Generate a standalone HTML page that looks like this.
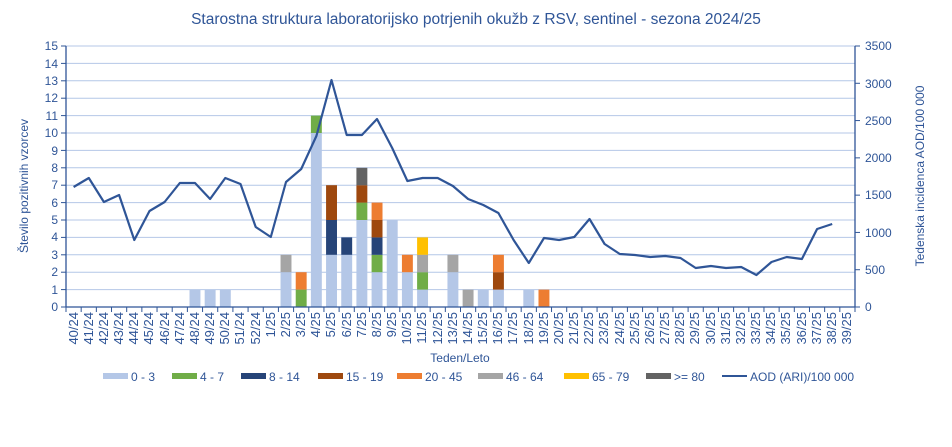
<!DOCTYPE html>
<html><head><meta charset="utf-8"><style>
body{margin:0;background:#fff;}
svg{display:block;font-family:"Liberation Sans",Arial,sans-serif;}
</style></head><body>
<svg id="s" width="952" height="447" viewBox="0 0 952 447" xmlns="http://www.w3.org/2000/svg">
<rect width="952" height="447" fill="#fff"/>
<text x="476" y="24" text-anchor="middle" font-size="15.5" fill="#2F5597">Starostna struktura  laboratorijsko potrjenih okužb z RSV, sentinel - sezona 2024/25</text>
<g id="grid" stroke="#B4C7E7" stroke-width="1"></g>
<g id="bars"></g>
<polyline id="line" fill="none" stroke="#2F5597" stroke-width="2.2" stroke-linejoin="round"/>
<g stroke="#2F5597" stroke-width="1.3">
<line x1="66" y1="46" x2="66" y2="307"/>
<line x1="855" y1="46" x2="855" y2="307"/>
<line x1="66" y1="307" x2="855" y2="307"/>
</g>
<g id="ticks" stroke="#2F5597" stroke-width="1"></g>
<g font-size="12" fill="#2F5597" text-anchor="end">
<text x="58" y="311">0</text><text x="58" y="294">1</text><text x="58" y="276">2</text><text x="58" y="259">3</text><text x="58" y="241">4</text><text x="58" y="224">5</text><text x="58" y="207">6</text><text x="58" y="189">7</text><text x="58" y="172">8</text><text x="58" y="155">9</text><text x="58" y="137">10</text><text x="58" y="120">11</text><text x="58" y="102">12</text><text x="58" y="85">13</text><text x="58" y="68">14</text><text x="58" y="50">15</text>
</g>
<g font-size="12" fill="#2F5597" text-anchor="start">
<text x="865" y="311">0</text><text x="865" y="274">500</text><text x="865" y="237">1000</text><text x="865" y="199">1500</text><text x="865" y="162">2000</text><text x="865" y="125">2500</text><text x="865" y="88">3000</text><text x="865" y="50">3500</text>
</g>
<text transform="translate(28,186) rotate(-90)" text-anchor="middle" font-size="12" fill="#2F5597">Število pozitivnih vzorcev</text>
<text transform="translate(924,176) rotate(-90)" text-anchor="middle" font-size="12" fill="#2F5597">Tedenska incidenca AOD/100 000</text>
<g font-size="13" fill="#2F5597" text-anchor="end">
<text transform="translate(78,312) rotate(-90)">40/24</text><text transform="translate(93,312) rotate(-90)">41/24</text><text transform="translate(108,312) rotate(-90)">42/24</text><text transform="translate(123,312) rotate(-90)">43/24</text><text transform="translate(138,312) rotate(-90)">44/24</text><text transform="translate(153,312) rotate(-90)">45/24</text><text transform="translate(169,312) rotate(-90)">46/24</text><text transform="translate(184,312) rotate(-90)">47/24</text><text transform="translate(199,312) rotate(-90)">48/24</text><text transform="translate(214,312) rotate(-90)">49/24</text><text transform="translate(229,312) rotate(-90)">50/24</text><text transform="translate(244,312) rotate(-90)">51/24</text><text transform="translate(260,312) rotate(-90)">52/24</text><text transform="translate(275,312) rotate(-90)">1/25</text><text transform="translate(290,312) rotate(-90)">2/25</text><text transform="translate(305,312) rotate(-90)">3/25</text><text transform="translate(320,312) rotate(-90)">4/25</text><text transform="translate(335,312) rotate(-90)">5/25</text><text transform="translate(351,312) rotate(-90)">6/25</text><text transform="translate(366,312) rotate(-90)">7/25</text><text transform="translate(381,312) rotate(-90)">8/25</text><text transform="translate(396,312) rotate(-90)">9/25</text><text transform="translate(411,312) rotate(-90)">10/25</text><text transform="translate(426,312) rotate(-90)">11/25</text><text transform="translate(442,312) rotate(-90)">12/25</text><text transform="translate(457,312) rotate(-90)">13/25</text><text transform="translate(472,312) rotate(-90)">14/25</text><text transform="translate(487,312) rotate(-90)">15/25</text><text transform="translate(502,312) rotate(-90)">16/25</text><text transform="translate(517,312) rotate(-90)">17/25</text><text transform="translate(533,312) rotate(-90)">18/25</text><text transform="translate(548,312) rotate(-90)">19/25</text><text transform="translate(563,312) rotate(-90)">20/25</text><text transform="translate(578,312) rotate(-90)">21/25</text><text transform="translate(593,312) rotate(-90)">22/25</text><text transform="translate(608,312) rotate(-90)">23/25</text><text transform="translate(624,312) rotate(-90)">24/25</text><text transform="translate(639,312) rotate(-90)">25/25</text><text transform="translate(654,312) rotate(-90)">26/25</text><text transform="translate(669,312) rotate(-90)">27/25</text><text transform="translate(684,312) rotate(-90)">28/25</text><text transform="translate(699,312) rotate(-90)">29/25</text><text transform="translate(715,312) rotate(-90)">30/25</text><text transform="translate(730,312) rotate(-90)">31/25</text><text transform="translate(745,312) rotate(-90)">32/25</text><text transform="translate(760,312) rotate(-90)">33/25</text><text transform="translate(775,312) rotate(-90)">34/25</text><text transform="translate(790,312) rotate(-90)">35/25</text><text transform="translate(806,312) rotate(-90)">36/25</text><text transform="translate(821,312) rotate(-90)">37/25</text><text transform="translate(836,312) rotate(-90)">38/25</text><text transform="translate(851,312) rotate(-90)">39/25</text>
</g>
<text x="460" y="362" text-anchor="middle" font-size="12" fill="#2F5597">Teden/Leto</text>
<g font-size="12" fill="#2F5597">
<rect x="103" y="373" width="25" height="6" fill="#B4C7E7"/><text x="131" y="381">0 - 3</text>
<rect x="172" y="373" width="25" height="6" fill="#70AD47"/><text x="200" y="381">4 - 7</text>
<rect x="241" y="373" width="25" height="6" fill="#264478"/><text x="269" y="381">8 - 14</text>
<rect x="318" y="373" width="25" height="6" fill="#9E480E"/><text x="346" y="381">15 - 19</text>
<rect x="397" y="373" width="25" height="6" fill="#ED7D31"/><text x="425" y="381">20 - 45</text>
<rect x="478" y="373" width="25" height="6" fill="#A5A5A5"/><text x="506" y="381">46 - 64</text>
<rect x="564" y="373" width="25" height="6" fill="#FFC000"/><text x="592" y="381">65 - 79</text>
<rect x="646" y="373" width="25" height="6" fill="#636363"/><text x="674" y="381">&gt;= 80</text>
<line x1="722" y1="376" x2="747" y2="376" stroke="#2F5597" stroke-width="2"/><text x="750" y="381">AOD (ARI)/100 000</text>
</g>
</svg>
<script>
var L=66,R=855,T=46,B=307,N=52,w=(R-L)/N,u=(B-T)/15,ns="http://www.w3.org/2000/svg";
function el(p,t,a){var e=document.createElementNS(ns,t);for(var k in a)e.setAttribute(k,a[k]);document.getElementById(p).appendChild(e);}
for(var i=1;i<=15;i++){var y=B-i*u;el("grid","line",{x1:L,x2:R,y1:y,y2:y});}
for(var i=0;i<=N;i++){var x=L+i*w;el("ticks","line",{x1:x,x2:x,y1:B,y2:B+5});}
for(var i=0;i<=15;i++){var y=B-i*u;el("ticks","line",{x1:L-5,x2:L,y1:y,y2:y});}
for(var i=0;i<=7;i++){var y=B-i*(B-T)/7;el("ticks","line",{x1:R,x2:R+5,y1:y,y2:y});}
var C=["#B4C7E7","#70AD47","#264478","#9E480E","#ED7D31","#A5A5A5","#FFC000","#636363"];
var D={8:[1],9:[1],10:[1],14:[2,0,0,0,0,1],15:[0,1,0,0,1],16:[10,1],17:[3,0,2,2],18:[3,0,1],19:[5,1,0,1,0,0,0,1],20:[2,1,1,1,1],21:[5],22:[2,0,0,0,1],23:[1,1,0,0,0,1,1],25:[2,0,0,0,0,1],26:[0,0,0,0,0,1],27:[1],28:[1,0,0,1,1],30:[1],31:[0,0,0,0,1]};
for(var k in D){var x=L+k*w+w*0.14,y=B;D[k].forEach(function(v,j){if(v){el("bars","rect",{x:x,y:y-v*u,width:w*0.72,height:v*u,fill:C[j]});y-=v*u;}});}
var V=[1609,1730,1408,1502,898,1287,1408,1663,1663,1448,1730,1650,1073,939,1676,1851,2293,3044,2307,2307,2521,2132,1690,1730,1730,1623,1448,1368,1260,898,590,925,898,939,1180,845,711,697,670,684,657,523,550,523,536,429,603,670,644,1046,1113];
var p=V.map(function(v,i){return (L+(i+0.5)*w).toFixed(1)+","+(B-v*(B-T)/3500).toFixed(1);}).join(" ");
document.getElementById("line").setAttribute("points",p);
</script>
</body></html>
